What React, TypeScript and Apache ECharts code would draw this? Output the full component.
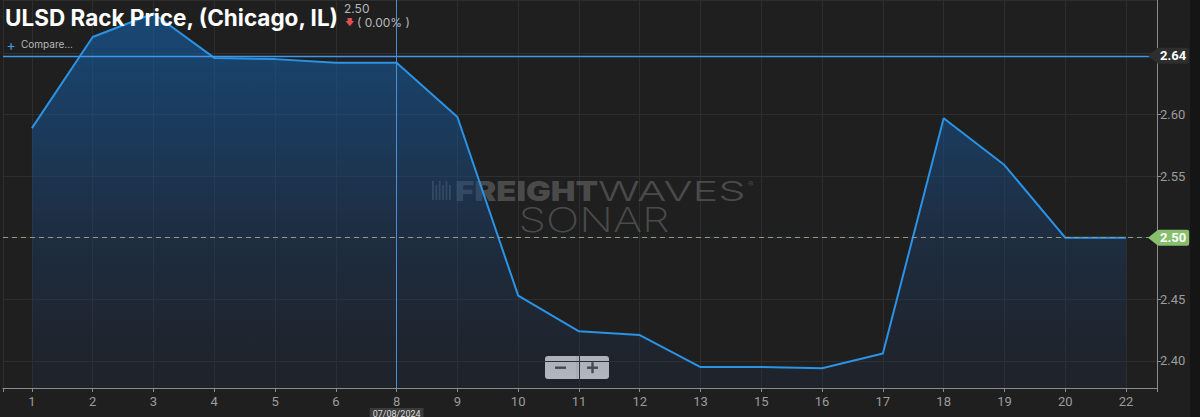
import React, { useEffect, useRef } from 'react';
import * as echarts from 'echarts';

const categories = ['1', '2', '3', '4', '5', '6', '8', '9', '10', '11', '12', '13', '15', '16', '17', '18', '19', '20', '22'];
const prices = [2.589, 2.663, 2.682, 2.646, 2.645, 2.642, 2.642, 2.598, 2.453, 2.424, 2.421, 2.395, 2.395, 2.394, 2.406, 2.597, 2.559, 2.5, 2.5];
const crosshairValue = 2.6477;
const crosshairLabel = '2.64';
const crosshairIndex = 6;
const crosshairDate = '07/08/2024';
const lastValue = 2.5;
const lastLabel = '2.50';
const changeLabel = '( 0.00% )';
const titleText = 'ULSD Rack Price, (Chicago, IL)';
const yMin = 2.378;
const yMax = 2.693;
const xMin = -0.476;
const xMax = 18.51;

export default function App() {
  const ref = useRef<HTMLDivElement>(null);
  useEffect(() => {
    if (!ref.current) return;
    const chart = echarts.init(ref.current, undefined, { renderer: 'svg' });
    const wm = 'rgba(130,130,130,0.45)';
    const baseGraphic: any[] = [
      { type: 'rect', id: 'strip', shape: { x: 1190, y: 0, width: 10, height: 417 }, style: { fill: '#151515' }, z: 100 },
      { type: 'text', id: 'title', x: 5, y: 17, style: { text: titleText, fill: '#ffffff', fontSize: 22.5, fontWeight: 'bold', fontFamily: 'Inter', verticalAlign: 'middle' }, z: 100 },
      { type: 'text', id: 'last', x: 344, y: 8, style: { text: lastLabel, fill: '#b8b8b8', fontSize: 12, fontFamily: 'Inter', verticalAlign: 'middle' }, z: 100 },
      { type: 'text', id: 'arrow', x: 349, y: 22, style: { text: '🡇', fill: '#e05050', fontSize: 9, fontFamily: 'DejaVu Sans', align: 'center', verticalAlign: 'middle' }, z: 100 },
      { type: 'text', id: 'chg', x: 357, y: 22, style: { text: changeLabel, fill: '#b8b8b8', fontSize: 12, fontFamily: 'Inter', verticalAlign: 'middle' }, z: 100 },
      { type: 'text', id: 'plus', x: 11, y: 44, style: { text: '+', fill: '#4a9be8', fontSize: 14, fontFamily: 'Inter', align: 'center', verticalAlign: 'middle' }, z: 100 },
      { type: 'text', id: 'cmp', x: 21, y: 44, style: { text: 'Compare...', fill: '#b8b8b8', fontSize: 10, fontFamily: 'Inter', verticalAlign: 'middle' }, z: 100 },
      // watermark
      {
        type: 'group', id: 'logo', x: 432, y: 181, z: 1,
        children: [0, 1, 2, 3, 4, 5].map((k) => ({
          type: 'rect', shape: { x: k * 3.4, y: k % 2 === 0 ? 0 : 4, width: 1.8, height: k % 2 === 0 ? 19 : 15 }, style: { fill: wm },
        })),
      },
      { type: 'text', id: 'wm1', x: 455, y: 191, scaleX: 1.22, style: { text: 'FREIGHT', fill: wm, fontSize: 27, fontWeight: 900, fontFamily: 'Inter', verticalAlign: 'middle' }, z: 1 },
      { type: 'text', id: 'wm2', x: 598, y: 191, scaleX: 1.6, style: { text: 'WAVES', fill: wm, fontSize: 27, fontWeight: 300, fontFamily: 'Inter', verticalAlign: 'middle' }, z: 1 },
      { type: 'text', id: 'wm3', x: 748, y: 184, style: { text: '®', fill: wm, fontSize: 8, fontFamily: 'Inter', verticalAlign: 'middle' }, z: 1 },
      { type: 'text', id: 'wm4', x: 594, y: 220, scaleX: 1.3, style: { text: 'SONAR', fill: wm, fontSize: 34, fontWeight: 200, fontFamily: 'Inter', align: 'center', verticalAlign: 'middle' }, z: 1 },
      // zoom buttons
      {
        type: 'group', id: 'zoomBtns', x: 545, y: 356, z: 100,
        children: [
          { type: 'rect', shape: { x: 0, y: 0, width: 64, height: 23, r: 3 }, style: { fill: '#dcdcdc' } },
          { type: 'line', shape: { x1: 32, y1: 0, x2: 32, y2: 23 }, style: { stroke: '#c4c4c4', lineWidth: 1 } },
          { type: 'rect', shape: { x: 10, y: 10.5, width: 11, height: 2.4 }, style: { fill: '#505050' } },
          { type: 'rect', shape: { x: 42, y: 10.5, width: 11, height: 2.4 }, style: { fill: '#505050' } },
          { type: 'rect', shape: { x: 46.3, y: 6.2, width: 2.4, height: 11 }, style: { fill: '#505050' } },
        ],
      },
    ];

    const boxLabel = (text: string, bg: string) => ({
      show: true, position: 'end', distance: 0, formatter: text,
      backgroundColor: bg, color: '#ffffff', fontSize: 13, fontFamily: 'Roboto', fontWeight: 'bold',
      padding: [2, 3, 1, 3], borderRadius: 2,
    });

    const option: any = {
      animation: false,
      backgroundColor: '#1f1f1f',
      grid: { left: 0, right: 43, top: 0, bottom: 29, containLabel: false },
      xAxis: {
        type: 'value',
        min: xMin,
        max: xMax,
        minInterval: 1,
        maxInterval: 1,
        axisLine: { show: true, onZero: false, lineStyle: { color: '#8c8c8c', width: 1 } },
        axisTick: { show: true, length: 4, lineStyle: { color: '#8c8c8c' } },
        axisLabel: {
          color: '#9c9c9c',
          fontSize: 13,
          fontFamily: 'Roboto',
          margin: 7,
          formatter: (v: number) => (Number.isInteger(v) && categories[v] !== undefined ? categories[v] : ''),
        },
        splitLine: { show: true, lineStyle: { color: '#2e2e2e', width: 1 } },
      },
      yAxis: {
        type: 'value',
        position: 'right',
        min: yMin,
        max: yMax,
        splitNumber: 6,
        axisLine: { show: true, onZero: false, lineStyle: { color: '#8c8c8c', width: 1 } },
        axisTick: { show: true, length: 4, inside: false, lineStyle: { color: '#8c8c8c' } },
        axisLabel: {
          color: '#9c9c9c',
          fontSize: 13,
          fontFamily: 'Roboto',
          margin: 3,
          showMinLabel: false,
          showMaxLabel: false,
          formatter: (v: number) => (Math.abs(v - crosshairValue) < 0.012 ? '' : v.toFixed(2)),
        },
        splitLine: { show: true, lineStyle: { color: '#2e2e2e', width: 1 } },
      },
      series: [
        {
          type: 'line',
          data: prices.map((v, i) => [i, v]),
          symbol: 'none',
          lineStyle: { color: '#2a93e6', width: 2 },
          areaStyle: {
            color: new echarts.graphic.LinearGradient(0, 0, 0, 1, [
              { offset: 0, color: 'rgba(20,96,168,0.9)' },
              { offset: 0.35, color: 'rgba(24,80,140,0.75)' },
              { offset: 0.6, color: 'rgba(28,64,110,0.6)' },
              { offset: 1, color: 'rgba(32,48,80,0.3)' },
            ]),
          },
          z: 2,
          markLine: {
            silent: true,
            symbol: ['none', 'none'],
            animation: false,
            data: [
              [
                { coord: [xMin, lastValue], lineStyle: { color: '#8e9c84', type: [5, 4], width: 1 }, label: boxLabel(lastLabel, '#86c06c') },
                { coord: [xMax, lastValue] },
              ],
              [
                { coord: [xMin, crosshairValue], lineStyle: { color: '#3f97e8', type: 'solid', width: 1.3 }, label: boxLabel(crosshairLabel, '#2e2e2e') },
                { coord: [xMax, crosshairValue] },
              ],
              [
                {
                  coord: [crosshairIndex, yMin], lineStyle: { color: '#4a8ed6', type: 'solid', width: 1 },
                  label: {
                    show: true, position: 'start', distance: 20, formatter: crosshairDate,
                    backgroundColor: '#3b3b3b', color: '#dddddd', fontSize: 9, fontFamily: 'Roboto',
                    padding: [1, 3, 0, 3],
                  },
                },
                { coord: [crosshairIndex, yMax] },
              ],
            ],
          },
        },
      ],
      graphic: baseGraphic,
    };
    chart.setOption(option);

    const pEnd = chart.convertToPixel({ gridIndex: 0 } as any, [xMax, lastValue]) as number[];
    const yCross = (chart.convertToPixel({ gridIndex: 0 } as any, [xMax, crosshairValue]) as number[])[1];
    const ax = pEnd[0];
    const tri = (id: string, y: number, fill: string) => ({
      type: 'polygon', id, z: 100,
      shape: { points: [[ax - 9, y], [ax + 1, y - 8], [ax + 1, y + 8]] },
      style: { fill },
    });
    chart.setOption({ graphic: [...baseGraphic, tri('triLast', pEnd[1], '#86c06c'), tri('triCross', yCross, '#2e2e2e')] });

    return () => chart.dispose();
  }, []);
  return <div ref={ref} style={{ position: 'fixed', left: 0, top: 0, width: 1200, height: 417 }} />;
}
